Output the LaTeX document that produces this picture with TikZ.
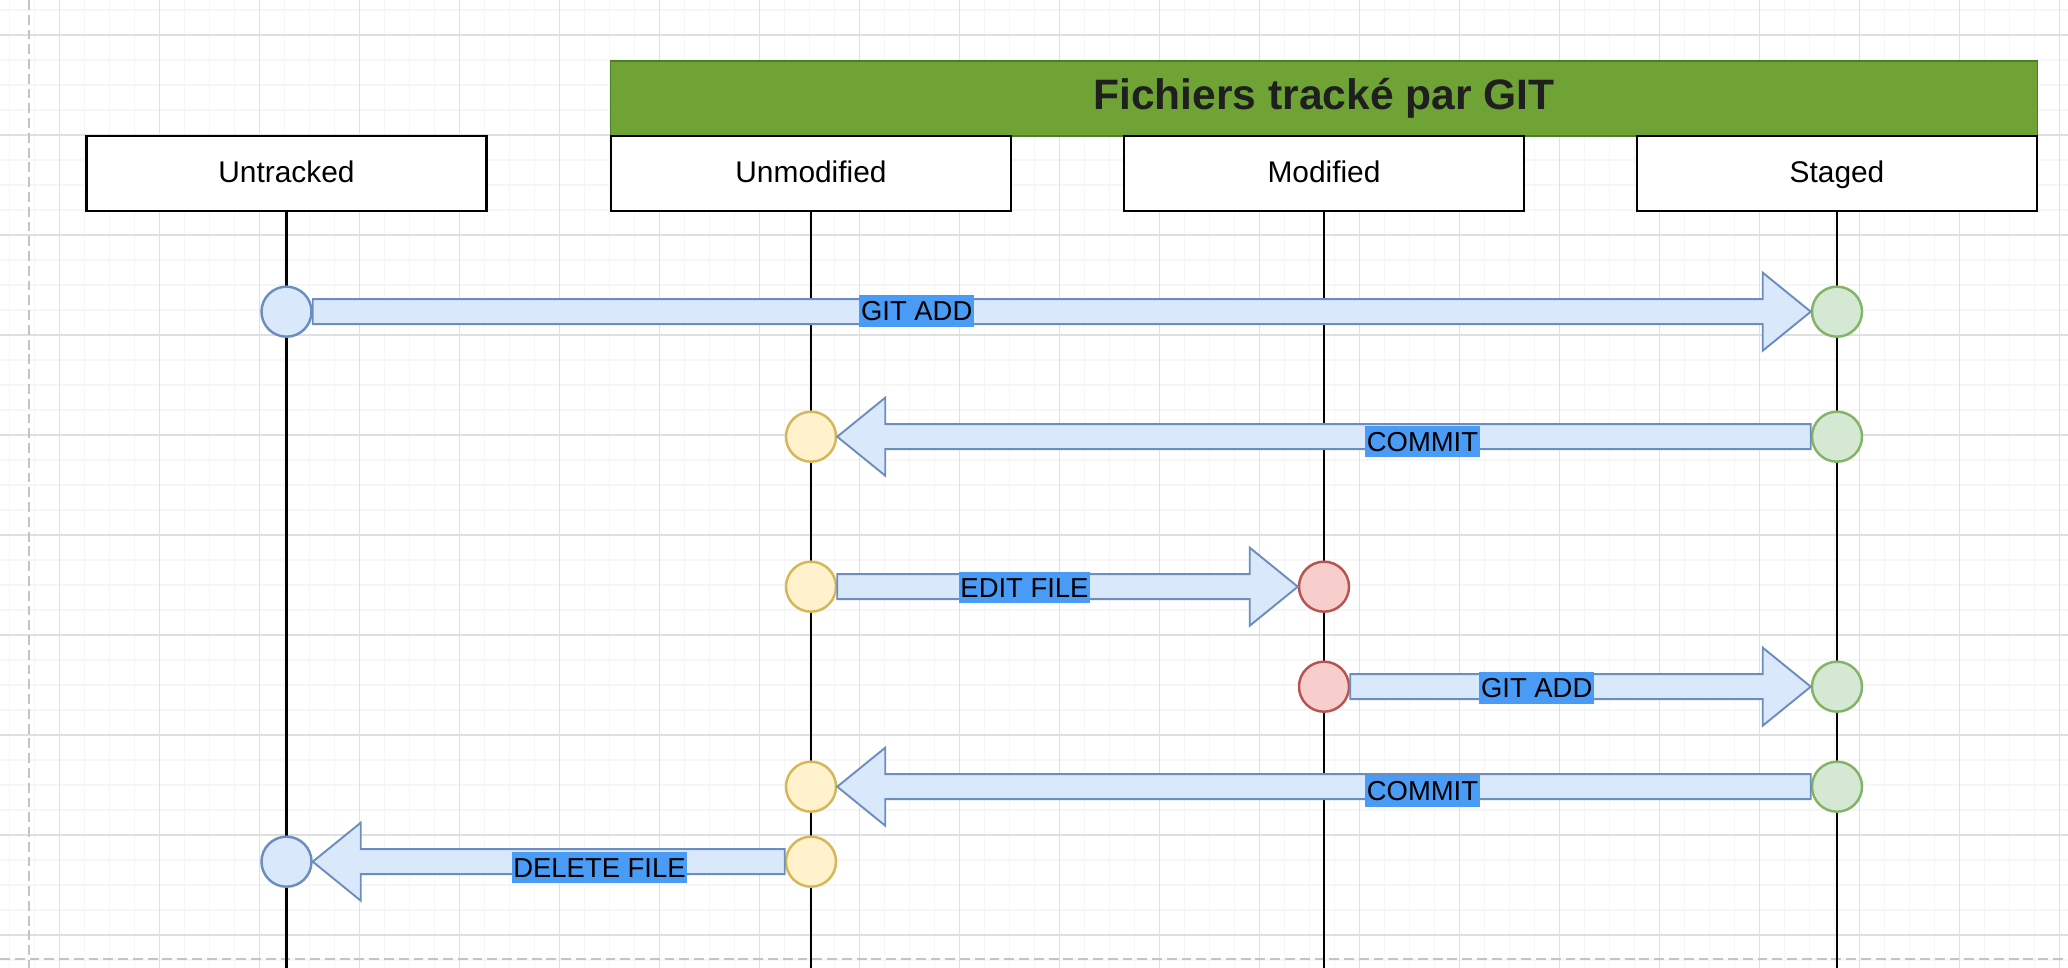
\documentclass[tikz,border=0pt]{standalone}
\usepackage{fontspec}
\setmainfont{Liberation Sans}
\usetikzlibrary{calc}

\definecolor{minorgrid}{HTML}{F6F6F6}
\definecolor{majorgrid}{HTML}{E0E0E0}
\definecolor{pageline}{HTML}{C4C4C4}
\definecolor{barfill}{HTML}{6FA336}
\definecolor{barline}{HTML}{4E7D2A}
\definecolor{titletext}{HTML}{1F1F1F}
\definecolor{bluefill}{HTML}{DAE8FC}
\definecolor{blueline}{HTML}{6C8EBF}
\definecolor{yellowfill}{HTML}{FFF2CC}
\definecolor{yellowline}{HTML}{D6B656}
\definecolor{redfill}{HTML}{F8CECC}
\definecolor{redline}{HTML}{B85450}
\definecolor{greenfill}{HTML}{D5E8D4}
\definecolor{greenline}{HTML}{82B366}
\definecolor{labelbg}{HTML}{4A9BF5}

\tikzset{
  minorline/.style={draw=minorgrid,line width=0.3pt},
  majorline/.style={draw=majorgrid,line width=0.4pt},
  pageedge/.style={draw=pageline,line width=0.55pt,dash pattern=on 2.8pt off 1.4pt},
  lane/.style={draw=black,fill=white,line width=0.7pt,minimum width=4cm,minimum height=7.5mm,inner sep=0pt,text height=0.72em,text depth=0.2em,font=\fontsize{8.5}{10}\selectfont},
  titlebar/.style={draw=barline,fill=barfill,line width=0.45pt,minimum width=14.26cm,minimum height=7.5mm,inner sep=0pt,text height=0.72em,text depth=0.1em,text=titletext,font=\fontsize{12.1}{14}\selectfont\bfseries},
  lifeline/.style={draw=black,line width=0.7pt},
  dot/.style={circle,draw=#1line,fill=#1fill,line width=0.7pt,minimum size=5mm,inner sep=0pt},
  fatarrow/.style={draw=blueline,fill=bluefill,line width=0.55pt,line join=miter},
  cmd/.style={fill=labelbg,inner xsep=0.5pt,inner ysep=0pt,minimum height=3.15mm,text height=5.6pt,text depth=0pt,font=\fontsize{7.8}{9}\selectfont}
}

\newcommand{\gitarrow}[3]{%
  \draw[fatarrow] ($(#1)+(0,1.25mm)$) -- ($(#2)+(#3,1.25mm)$) -- ($(#2)+(#3,3.9mm)$) -- (#2)
    -- ($(#2)+(#3,-3.9mm)$) -- ($(#2)+(#3,-1.25mm)$) -- ($(#1)+(0,-1.25mm)$) -- cycle;}

\begin{document}
\begin{tikzpicture}[x=0.01cm,y=-0.01cm]
  \useasboundingbox (0,0) rectangle (2068,968);
  \fill[white] (0,0) rectangle (2068,968);
  \foreach \gx in {9.3,34.3,...,2068} \draw[minorline] (\gx,0) -- (\gx,968);
  \foreach \gy in {10,35,...,968} \draw[minorline] (0,\gy) -- (2068,\gy);
  \foreach \gx in {59.3,159.3,...,2068} \draw[majorline] (\gx,0) -- (\gx,968);
  \foreach \gy in {35,135,...,968} \draw[majorline] (0,\gy) -- (2068,\gy);
  \draw[pageedge] (29.3,0) -- (29.3,968);
  \draw[pageedge] (0,959) -- (2068,959);

  \node[titlebar] (tracked) at (1324,98.5) {Fichiers tracké par GIT};
  \foreach \x/\t/\nm in {286.5/Untracked/untracked,811/Unmodified/unmodified,1324/Modified/modified,1837/Staged/staged} {
    \node[lane] (\nm) at (\x,173.5) {\t};
    \coordinate (\nm-end) at (\x,968);
    \draw[lifeline] (\nm) -- (\nm-end);
  }

  \foreach \n/\y/\xa/\ca/\xb/\cb/\sa/\tb/\hd in {
      1/311.7/286.5/blue/1837/green/east/west/-4.8mm,
      2/436.7/1837/green/811/yellow/west/east/4.8mm,
      3/586.7/811/yellow/1324/red/east/west/-4.8mm,
      4/686.7/1324/red/1837/green/east/west/-4.8mm,
      5/786.7/1837/green/811/yellow/west/east/4.8mm,
      6/861.7/811/yellow/286.5/blue/west/east/4.8mm} {
    \node[dot=\ca] (from\n) at (\xa,\y) {};
    \node[dot=\cb] (to\n) at (\xb,\y) {};
    \gitarrow{from\n.\sa}{to\n.\tb}{\hd}
  }

  \foreach \n/\x/\y/\t in {1/916.7/311/{GIT ADD~},2/1422.5/441.5/COMMIT,3/1024.5/587.5/EDIT FILE,
      4/1536.7/688/{GIT ADD~},5/1422.5/791/COMMIT,6/599.5/867.5/DELETE FILE} {
    \node[cmd] (cmd\n) at (\x,\y) {\t};
  }
\end{tikzpicture}
\end{document}
